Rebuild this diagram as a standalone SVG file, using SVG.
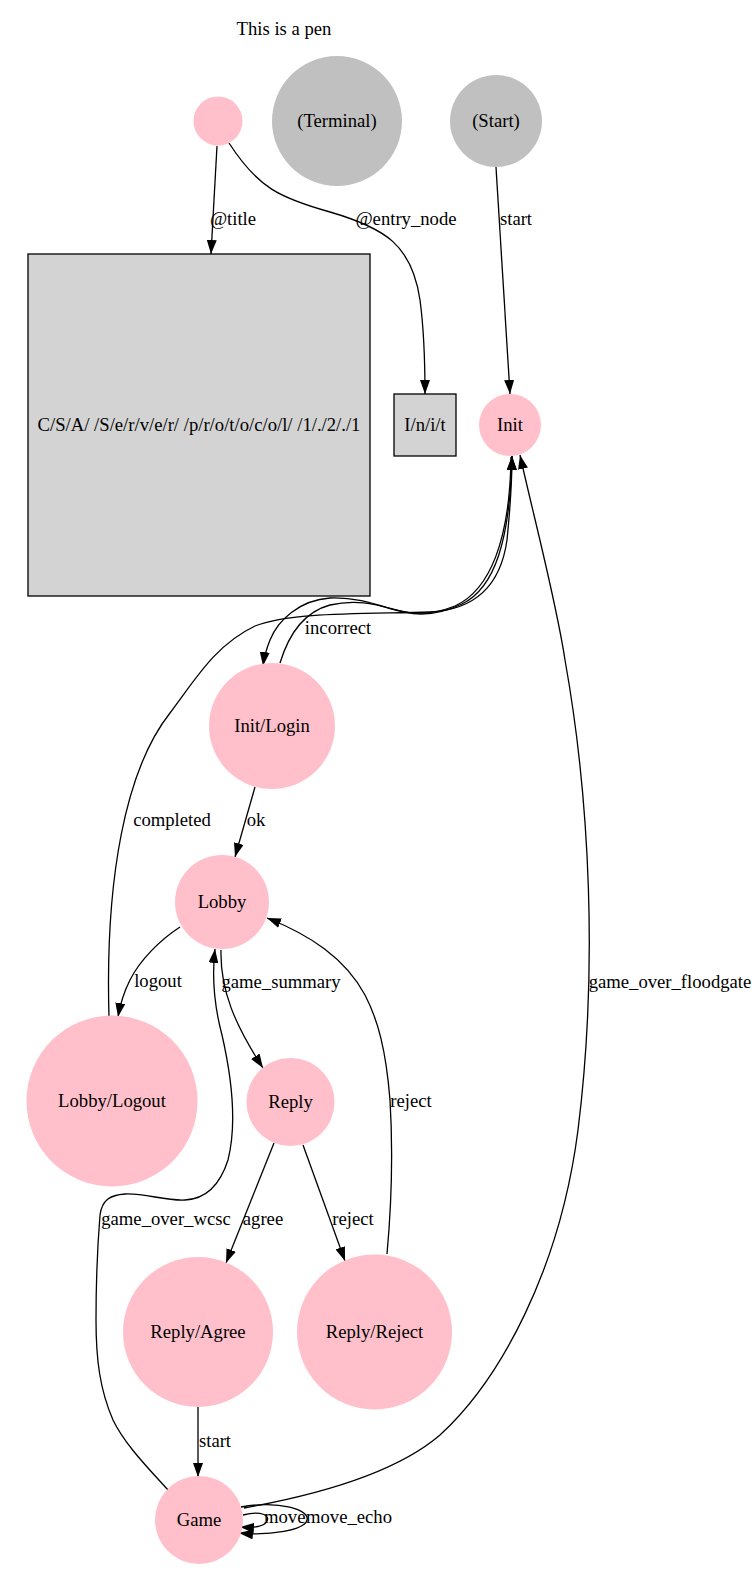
<svg xmlns="http://www.w3.org/2000/svg" width="756" height="1590" viewBox="0 0 756 1590">
<style>
text{font-family:"Liberation Serif","Times New Roman",serif;font-size:18.67px;fill:#000;text-anchor:middle}
.pink{fill:#ffc0cb;stroke:none}
.gray{fill:#c0c0c0;stroke:none}
.box{fill:#d3d3d3;stroke:#000;stroke-width:1.3}
.e{fill:none;stroke:#000;stroke-width:1.3}
.a{marker-end:url(#arr)}
</style>
<defs>
<marker id="arr" viewBox="0 0 14 10" refX="14" refY="5" markerWidth="14" markerHeight="10" orient="auto" markerUnits="userSpaceOnUse"><path d="M0,0 L14,5 L0,10 z" fill="#000"/></marker>
</defs>
<rect width="756" height="1590" fill="#fff"/>
<text x="284" y="35">This is a pen</text>
<g id="edges">
<path class="e a" d="M217,146 L211,254"/>
<text x="233" y="225">@title</text>
<path class="e a" d="M229,143 C258,188 280,198 330,212 C385,228 412,245 420,300 C424,330 425,370 425,394"/>
<text x="406" y="225">@entry_node</text>
<path class="e a" d="M496,167 L510,394"/>
<text x="516" y="225">start</text>
<path class="e a" d="M511,457 C510,540 490,590 455,606 C430,616 410,614 395,610 C375,604 355,597 330,598 C300,600 278,620 270,640 C266,650 264,658 263,666"/>
<path class="e a" d="M280,663 C287,640 300,613 330,605 C360,598 380,606 405,612 C425,617 445,612 462,604 C495,588 510,540 512,456"/>
<text x="338" y="634">incorrect</text>
<path class="e a" d="M109,1017 C105,880 125,770 170,713 C195,680 215,645 255,626 C290,612 360,614 430,612 C470,610 500,590 507,540 C510,510 512,480 512,456"/>
<text x="172" y="826">completed</text>
<path class="e a" d="M255,787 L235,857"/>
<text x="256" y="826">ok</text>
<path class="e a" d="M180,927 C160,940 140,960 130,980 C124,992 120,1005 118,1017"/>
<text x="158" y="987">logout</text>
<path class="e a" d="M221,950 C220,990 235,1025 263,1068"/>
<text x="281" y="988">game_summary</text>
<path class="e a" d="M168,1490 C150,1470 125,1445 113,1420 C100,1390 96,1360 96,1320 C96,1280 98,1240 100,1215 C102,1200 110,1195 125,1194 C145,1193 165,1201 185,1200 C205,1199 220,1185 228,1160 C238,1120 230,1070 222,1035 C214,1005 212,975 215,949"/>
<text x="166" y="1225">game_over_wcsc</text>
<path class="e a" d="M274,1143 L226,1263"/>
<text x="263" y="1225">agree</text>
<path class="e a" d="M303,1145 L345,1261"/>
<text x="353" y="1225">reject</text>
<path class="e a" d="M387,1254 C391,1210 393,1150 390,1100 C386,1050 378,1020 365,995 C345,958 310,935 267,918"/>
<text x="411" y="1107">reject</text>
<path class="e a" d="M198,1407 L198,1477"/>
<text x="215" y="1447">start</text>
<path class="e a" d="M243,1515 C262,1510 270,1516 267,1521 C265,1526 255,1528 240,1527"/>
<text x="264" y="1523" style="text-anchor:start">move</text>
<path class="e a" d="M241,1507 C280,1500 310,1510 307,1520 C305,1530 270,1536 239,1533"/>
<text x="306" y="1523" style="text-anchor:start">move_echo</text>
<path class="e a" d="M244,1508 C300,1498 390,1478 440,1435 C500,1380 560,1270 578,1130 C598,970 590,800 565,660 C556,600 532,510 520,455"/>
<text x="670" y="988">game_over_floodgate</text>
</g>
<g id="n_anon"><circle class="pink" cx="218" cy="121" r="24.5"/></g>
<g id="n_terminal"><circle class="gray" cx="337" cy="121" r="65"/><text x="337" y="127">(Terminal)</text></g>
<g id="n_start"><circle class="gray" cx="496" cy="121" r="46"/><text x="496" y="127">(Start)</text></g>
<g id="n_title"><rect class="box" x="28" y="254" width="342" height="342"/><text x="199" y="431">C/S/A/ /S/e/r/v/e/r/ /p/r/o/t/o/c/o/l/ /1/./2/./1</text></g>
<g id="n_entry"><rect class="box" x="394" y="394" width="62" height="62"/><text x="425" y="431">I/n/i/t</text></g>
<g id="n_init"><circle class="pink" cx="510" cy="425" r="31"/><text x="510" y="431">Init</text></g>
<g id="n_login"><circle class="pink" cx="272" cy="726" r="63"/><text x="272" y="732">Init/Login</text></g>
<g id="n_lobby"><circle class="pink" cx="222" cy="902" r="47"/><text x="222" y="908">Lobby</text></g>
<g id="n_logout"><circle class="pink" cx="112" cy="1101" r="85.5"/><text x="112" y="1107">Lobby/Logout</text></g>
<g id="n_reply"><circle class="pink" cx="290.5" cy="1102" r="44"/><text x="290.5" y="1108">Reply</text></g>
<g id="n_agree"><circle class="pink" cx="198" cy="1332" r="75"/><text x="198" y="1338">Reply/Agree</text></g>
<g id="n_reject"><circle class="pink" cx="374.5" cy="1332" r="77.5"/><text x="374.5" y="1338">Reply/Reject</text></g>
<g id="n_game"><circle class="pink" cx="199" cy="1520" r="44"/><text x="199" y="1526">Game</text></g>
</svg>
